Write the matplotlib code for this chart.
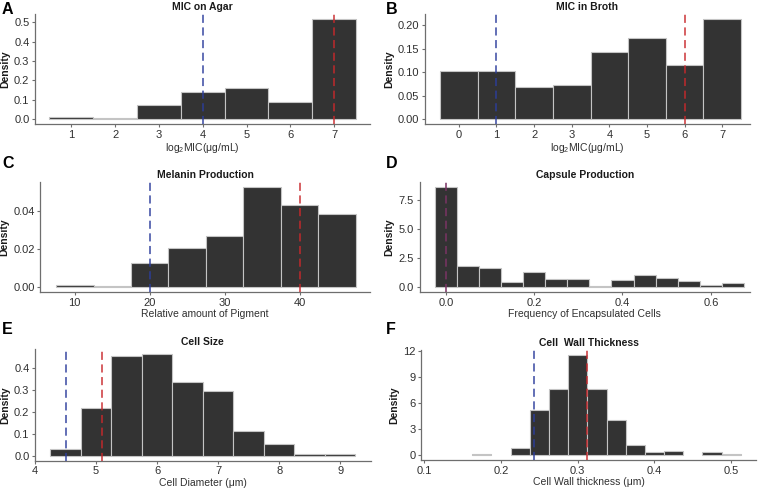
import matplotlib
matplotlib.use("Agg")
import matplotlib.pyplot as plt
import matplotlib.colors as mcolors
import numpy as np

plt.rcParams['font.family'] = ['Liberation Sans', 'DejaVu Sans']
plt.rcParams['mathtext.fontset'] = 'custom'
plt.rcParams['mathtext.rm'] = 'Liberation Sans'
plt.rcParams['mathtext.it'] = 'Liberation Sans:italic'

# ---- data ----
agar_bins = [1, 2, 3, 4, 5, 6, 7]
agar_density = [0.010, 0.003, 0.074, 0.142, 0.159, 0.086, 0.517]
agar_lines = [4, 7]

broth_bins = [0, 1, 2, 3, 4, 5, 6, 7]
broth_density = [0.1025, 0.1025, 0.0676, 0.0733, 0.143, 0.172, 0.114, 0.213]
broth_lines = [1, 6]

melanin_bins = [10, 15, 20, 25, 30, 35, 40, 45]
melanin_density = [0.0012, 0.0005, 0.0127, 0.0208, 0.027, 0.0527, 0.043, 0.0386]
melanin_lines = [20, 40]

capsule_bins = [0.0, 0.05, 0.10, 0.15, 0.20, 0.25, 0.30, 0.35, 0.40, 0.45, 0.50, 0.55, 0.60, 0.65]
capsule_density = [8.62, 1.79, 1.67, 0.43, 1.33, 0.72, 0.72, 0.12, 0.60, 1.07, 0.81, 0.52, 0.20, 0.37]
capsule_lines = [0.0, 0.0]

size_bins = [4.5, 5.0, 5.5, 6.0, 6.5, 7.0, 7.5, 8.0, 8.5, 9.0]
size_density = [0.032, 0.217, 0.454, 0.463, 0.338, 0.295, 0.111, 0.052, 0.006, 0.006]
size_lines = [4.5, 5.1]

wall_bins = [0.175, 0.225, 0.25, 0.275, 0.30, 0.325, 0.35, 0.375, 0.40, 0.425, 0.475, 0.50]
wall_density = [0.15, 0.84, 5.25, 7.7, 11.58, 7.7, 4.03, 1.19, 0.35, 0.5, 0.35, 0.15]
wall_lines = [0.243, 0.312]

titles = ["MIC on Agar", "MIC in Broth", "Melanin Production",
          "Capsule Production", "Cell Size", "Cell  Wall Thickness"]
xlabels = [r"log$_{\mathregular{2}}$MIC(μg/mL)", r"log$_{\mathregular{2}}$MIC(μg/mL)",
           "Relative amount of Pigment", "Frequency of Encapsulated Cells",
           "Cell Diameter (μm)", "Cell Wall thickness (μm)"]
letters = ["A", "B", "C", "D", "E", "F"]

W, H = 758, 491
fig = plt.figure(figsize=(W / 100, H / 100), dpi=100)

def rect(l, r, t, b):
    return [l / W, 1 - b / H, (r - l) / W, (b - t) / H]

panels = [
    dict(r=rect(35, 370, 14, 124), x=agar_bins, y=agar_density, w=1.0, lines=agar_lines,
         xlim=(0.17, 7.82), xt=[1, 2, 3, 4, 5, 6, 7], yt=[0, 0.1, 0.2, 0.3, 0.4, 0.5], yfmt="{:.1f}", xfmt="{:g}",
         letter=(2, 2)),
    dict(r=rect(425, 749.7, 14, 124), x=broth_bins, y=broth_density, w=1.0, lines=broth_lines,
         xlim=(-0.9, 7.73), xt=[0, 1, 2, 3, 4, 5, 6, 7], yt=[0, 0.05, 0.10, 0.15, 0.20], yfmt="{:.2f}", xfmt="{:g}",
         letter=(386, 2)),
    dict(r=rect(40.3, 370, 181.7, 292.3), x=melanin_bins, y=melanin_density, w=5.0, lines=melanin_lines,
         xlim=(5.4, 49.4), xt=[10, 20, 30, 40], yt=[0, 0.02, 0.04], yfmt="{:.2f}", xfmt="{:g}",
         letter=(2, 156)),
    dict(r=rect(419.7, 749.7, 181.7, 292.3), x=capsule_bins, y=capsule_density, w=0.05, lines=capsule_lines,
         xlim=(-0.059, 0.688), xt=[0, 0.2, 0.4, 0.6], yt=[0, 2.5, 5.0, 7.5], yfmt="{:.1f}", xfmt="{:.1f}",
         letter=(386, 156)),
    dict(r=rect(35, 370.7, 349.3, 460.7), x=size_bins, y=size_density, w=0.5, lines=size_lines,
         xlim=(4.0, 9.5), xt=[4, 5, 6, 7, 8, 9], yt=[0, 0.1, 0.2, 0.3, 0.4], yfmt="{:.1f}", xfmt="{:g}",
         letter=(2, 322)),
    dict(r=rect(421.3, 755.7, 350, 460), x=wall_bins, y=wall_density, w=0.025, lines=wall_lines,
         xlim=(0.096, 0.532), xt=[0.1, 0.2, 0.3, 0.4, 0.5], yt=[0, 3, 6, 9, 12], yfmt="{:g}", xfmt="{:.1f}",
         letter=(386, 322)),
]

axis_col = '#6e6e6e'
text_col = '#303030'
line_cols = ['#2c3d9c', '#c8282c']

for i, p in enumerate(panels):
    ax = fig.add_axes(p['r'])
    ax.bar(p['x'], p['y'], width=p['w'], color='#333333', edgecolor='#c4c4c4', linewidth=0.8, zorder=2)
    lo, hi = p['lines']
    if lo == hi:
        # coincident reference lines blend to purple
        c1 = np.array(mcolors.to_rgb(line_cols[0]))
        c2 = np.array(mcolors.to_rgb(line_cols[1]))
        ax.axvline(lo, color=tuple((c1 + c2) / 2), linestyle=(0, (4.5, 2.5)), linewidth=1.3,
                   alpha=0.85, zorder=3)
    else:
        for c, xv in zip(line_cols, p['lines']):
            ax.axvline(xv, color=c, linestyle=(0, (4.5, 2.5)), linewidth=1.3, alpha=0.8, zorder=3)
    ymax = max(p['y'])
    ax.set_ylim(-0.05 * ymax, 1.05 * ymax)
    ax.set_xlim(*p['xlim'])
    ax.set_xticks(p['xt'])
    ax.set_xticklabels([p['xfmt'].format(v) for v in p['xt']])
    ax.set_yticks(p['yt'])
    ax.set_yticklabels([p['yfmt'].format(v) for v in p['yt']])
    for s in ['top', 'right']:
        ax.spines[s].set_visible(False)
    for s in ['left', 'bottom']:
        ax.spines[s].set_color(axis_col)
        ax.spines[s].set_linewidth(0.9)
    ax.tick_params(axis='both', length=2.5, width=0.8, color=axis_col, labelsize=8,
                   labelcolor=text_col, pad=1.5)
    ax.set_title(titles[i], fontsize=7.5, fontweight='bold', color='#1a1a1a', pad=3)
    ax.set_xlabel(xlabels[i], fontsize=7.5, color=text_col, labelpad=1.0)
    ax.set_ylabel("Density", fontsize=7.5, fontweight='bold', color='#1a1a1a', labelpad=3)
    ax.set_facecolor('white')
    lx, ly = p['letter']
    fig.text(lx / W, 1 - ly / H, letters[i], fontsize=11.5, fontweight='bold',
             ha='left', va='top', color='black')

fig.savefig("out.png", dpi=100, facecolor='white')
